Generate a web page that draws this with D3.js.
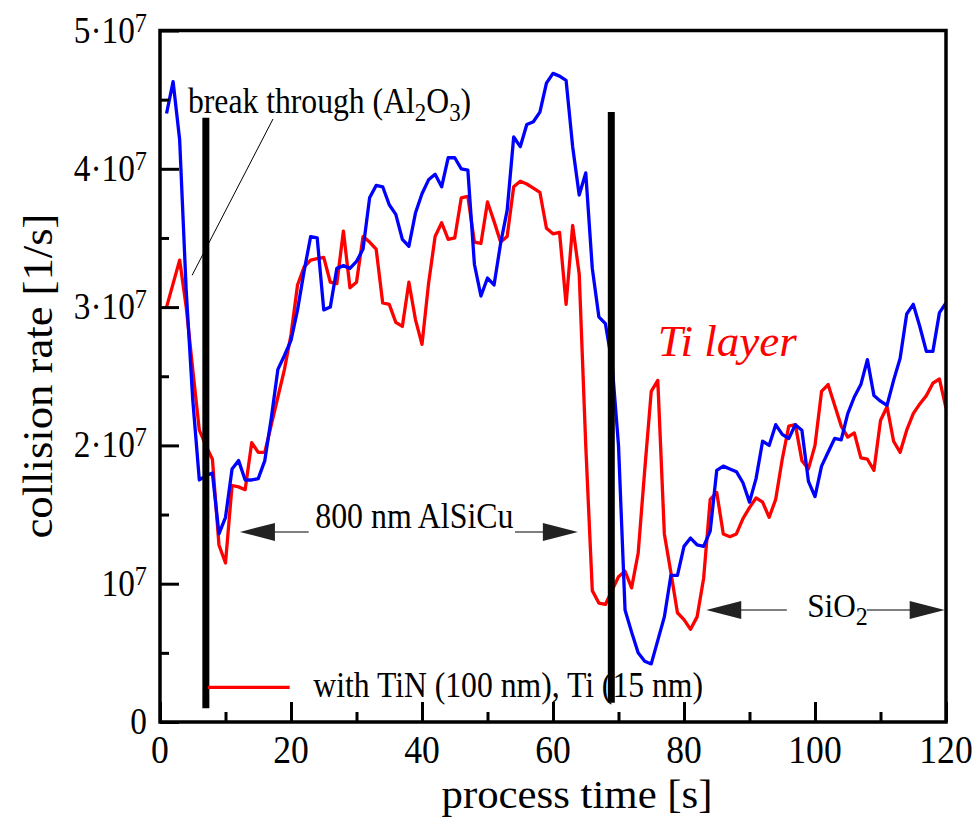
<!DOCTYPE html>
<html><head><meta charset="utf-8">
<script src="https://cdn.jsdelivr.net/npm/d3@7"></script>
<style>
body{margin:0;background:#fff}
svg{display:block;background:#fff}
text{font-family:"Liberation Serif","Times New Roman",serif;fill:#000}
</style>
</head><body><svg id="c" width="974" height="818"></svg>
<script>
// ---- data (collision rate in units of 10^7 1/s) ----
const times = [1,2,3,4,5,6,7,8,9,10,11,12,13,14,15,16,17,18,19,20,
  21,22,23,24,25,26,27,28,29,30,31,32,33,34,35,36,37,38,39,40,
  41,42,43,44,45,46,47,48,49,50,51,52,53,54,55,56,57,58,59,60,
  61,62,63,64,65,66,67,68,69,70,71,72,73,74,75,76,77,78,79,80,
  81,82,83,84,85,86,87,88,89,90,91,92,93,94,95,96,97,98,99,100,
  101,102,103,104,105,106,107,108,109,110,111,112,113,114,115,116,117,118,119,120];
const blueRate = [4.40,4.63,4.21,3.12,2.33,1.75,1.78,1.80,1.36,1.48,
  1.83,1.89,1.75,1.75,1.76,1.89,2.20,2.55,2.65,2.76,
  2.98,3.26,3.51,3.50,2.98,3.00,3.28,3.30,3.28,3.33,
  3.42,3.79,3.88,3.87,3.74,3.67,3.49,3.44,3.68,3.82,
  3.92,3.96,3.87,4.08,4.08,4.00,3.99,3.31,3.08,3.21,
  3.16,3.46,3.70,4.23,4.16,4.32,4.34,4.41,4.62,4.69,
  4.67,4.64,4.16,3.81,3.97,3.28,2.93,2.88,2.60,2.00,
  0.81,0.65,0.50,0.44,0.42,0.59,0.76,1.06,1.06,1.27,
  1.33,1.28,1.27,1.38,1.82,1.85,1.83,1.81,1.73,1.59,
  1.76,2.03,2.00,2.15,2.08,2.05,2.15,2.11,1.74,1.63,
  1.85,1.95,2.05,2.04,2.23,2.35,2.44,2.62,2.36,2.32,
  2.29,2.47,2.63,2.95,3.02,2.86,2.68,2.68,2.96,3.03];
const redRate = [3.00,3.17,3.34,3.00,2.55,2.11,2.00,1.90,1.28,1.15,
  1.71,1.70,1.68,2.02,1.95,1.95,2.15,2.35,2.55,2.80,
  3.16,3.29,3.34,3.35,3.36,3.18,3.17,3.55,3.14,3.18,
  3.51,3.47,3.42,3.03,3.02,2.89,2.86,3.18,2.91,2.73,
  3.17,3.51,3.61,3.49,3.50,3.79,3.80,3.47,3.46,3.76,
  3.62,3.47,3.51,3.87,3.91,3.89,3.86,3.83,3.57,3.53,
  3.54,3.02,3.59,3.24,2.00,0.95,0.86,0.85,0.95,1.05,
  1.09,0.97,1.22,1.82,2.39,2.47,1.36,1.08,0.79,0.74,
  0.67,0.76,1.04,1.61,1.66,1.36,1.34,1.36,1.47,1.55,
  1.62,1.59,1.48,1.61,1.90,2.14,2.15,1.89,1.83,2.00,
  2.39,2.44,2.29,2.14,2.06,2.09,1.91,1.90,1.82,2.18,
  2.28,2.03,1.95,2.11,2.23,2.30,2.36,2.45,2.48,2.27];

const xMajorTicks = [0,20,40,60,80,100,120];
const xMinorTicks = [10,30,50,70,90,110];
const xTickLabels = ["0","20","40","60","80","100","120"];
const yMajorTicks = [0,1,2,3,4,5];
const yMinorTicks = [0.5,1.5,2.5,3.5,4.5];
const yTickBase = ["0","10","2·10","3·10","4·10","5·10"];
const yTickExp  = ["","7","7","7","7","7"];

// process boundaries (vertical bars): time, top, bottom
const barTimes = [7.0, 68.9];
const barTops = [4.37, 4.41];
const barBottoms = [0.10, 0.14];

// ---- layout ----
const svg = d3.select("#c");
const x = d3.scaleLinear().domain([0,120]).range([160,946]);
const y = d3.scaleLinear().domain([0,5]).range([722,30.5]);

// series
const line = d3.line().x((d,i)=>x(times[i])).y(d=>y(d));
svg.append("path").datum(redRate).attr("d",line)
  .attr("fill","none").attr("stroke","#ff0000").attr("stroke-width",3.3).attr("stroke-linejoin","round");
svg.append("path").datum(blueRate).attr("d",line)
  .attr("fill","none").attr("stroke","#0000ff").attr("stroke-width",3.3).attr("stroke-linejoin","round");

// axes ticks (inward)
function styleAxis(g){ g.select(".domain").remove(); g.selectAll("line").attr("stroke","#000").attr("stroke-width",3); }
svg.append("g").attr("transform","translate(0,722)")
  .call(d3.axisBottom(x).tickValues(xMajorTicks).tickSize(-20).tickFormat("")).call(styleAxis);
svg.append("g").attr("transform","translate(0,722)")
  .call(d3.axisBottom(x).tickValues(xMinorTicks).tickSize(-10).tickFormat("")).call(styleAxis);
svg.append("g").attr("transform","translate(160,0)")
  .call(d3.axisLeft(y).tickValues(yMajorTicks).tickSize(-19).tickFormat("")).call(styleAxis);
svg.append("g").attr("transform","translate(160,0)")
  .call(d3.axisLeft(y).tickValues(yMinorTicks).tickSize(-9).tickFormat("")).call(styleAxis);

// frame
svg.append("rect").attr("x",x(0)).attr("y",y(5)).attr("width",x(120)-x(0)).attr("height",y(0)-y(5))
  .attr("fill","none").attr("stroke","#000").attr("stroke-width",3.5);

// y tick labels
yMajorTicks.forEach((v,i)=>{
  const t = svg.append("text").attr("transform",`translate(147,${y(v)+12}) scale(0.9,1)`)
    .attr("text-anchor","end").attr("font-size",37);
  t.append("tspan").text(yTickBase[i]);
  if (yTickExp[i]) t.append("tspan").attr("font-size",27).attr("dy",-11).text(yTickExp[i]);
});
// x tick labels
xMajorTicks.forEach((v,i)=>{
  svg.append("text").attr("transform",`translate(${x(v)},763) scale(0.89,1)`)
    .attr("text-anchor","middle").attr("font-size",40).text(xTickLabels[i]);
});

// axis titles
svg.append("text").attr("x",577).attr("y",808).attr("text-anchor","middle")
  .attr("font-size",40).attr("textLength",271).attr("lengthAdjust","spacingAndGlyphs").text("process time [s]");
svg.append("text").attr("transform","translate(52,376) rotate(-90)").attr("text-anchor","middle")
  .attr("font-size",42).attr("textLength",325).attr("lengthAdjust","spacingAndGlyphs").text("collision rate [1/s]");

// leader line for break through
svg.append("line").attr("x1",x(4.9)).attr("y1",y(3.23)).attr("x2",x(17.25)).attr("y2",y(4.36))
  .attr("stroke","#000").attr("stroke-width",1);

// vertical bars
barTimes.forEach((t,i)=>{
  svg.append("line").attr("x1",x(t)).attr("x2",x(t)).attr("y1",y(barTops[i])).attr("y2",y(barBottoms[i]))
    .attr("stroke","#000").attr("stroke-width",7);
});

// annotation texts
function subText(sel, parts){
  parts.forEach(p=>{
    const ts = sel.append("tspan").text(p[0]);
    if (p[1]==="sub") ts.attr("font-size",26).attr("dy",8);
    if (p[1]==="up") ts.attr("dy",-8);
  });
}
const bt = svg.append("text").attr("transform",`translate(${x(4.27)},${y(4.40)}) scale(0.88,1)`).attr("font-size",36);
subText(bt,[["break through (Al"],["2","sub"],["O","up"],["3","sub"],[")","up"]]);

svg.append("text").attr("transform",`translate(${x(23.7)},${y(1.40)}) scale(0.91,1)`).attr("font-size",35).text("800 nm AlSiCu");

const so = svg.append("text").attr("transform",`translate(${x(98.8)},${y(0.76)}) scale(0.92,1)`).attr("font-size",34);
subText(so,[["SiO"],["2","sub"]]);

svg.append("text").attr("x",x(76.0)).attr("y",y(2.65)).attr("font-size",44).attr("font-style","italic")
  .attr("textLength",139).attr("lengthAdjust","spacingAndGlyphs").style("fill","#ff0000").text("Ti layer");

// arrows
function arrow(tail, tip, v){
  const yy = y(v), xt = x(tip), xs = x(tail);
  const dir = Math.sign(xt - xs), L = 35, W = 9;
  svg.append("line").attr("x1",xs).attr("x2",xt - dir*L*0.5).attr("y1",yy).attr("y2",yy)
    .attr("stroke","#000").attr("stroke-width",1.2);
  svg.append("path").attr("d",`M${xt},${yy}L${xt-dir*L},${yy-W}L${xt-dir*L},${yy+W}Z`).attr("fill","#222");
}
arrow(22.7, 12.2, 1.374);
arrow(54.2, 63.8, 1.374);
arrow(95.7, 83.4, 0.81);
arrow(107.9, 119.8, 0.81);

// legend
svg.append("line").attr("x1",x(7.3)).attr("x2",x(19.8)).attr("y1",y(0.25)).attr("y2",y(0.25))
  .attr("stroke","#ff0000").attr("stroke-width",3.3);
svg.append("text").attr("transform",`translate(${x(23.4)},${y(0.18)}) scale(0.88,1)`).attr("font-size",36)
  .text("with TiN (100 nm), Ti (15 nm)");
</script>
</body></html>
